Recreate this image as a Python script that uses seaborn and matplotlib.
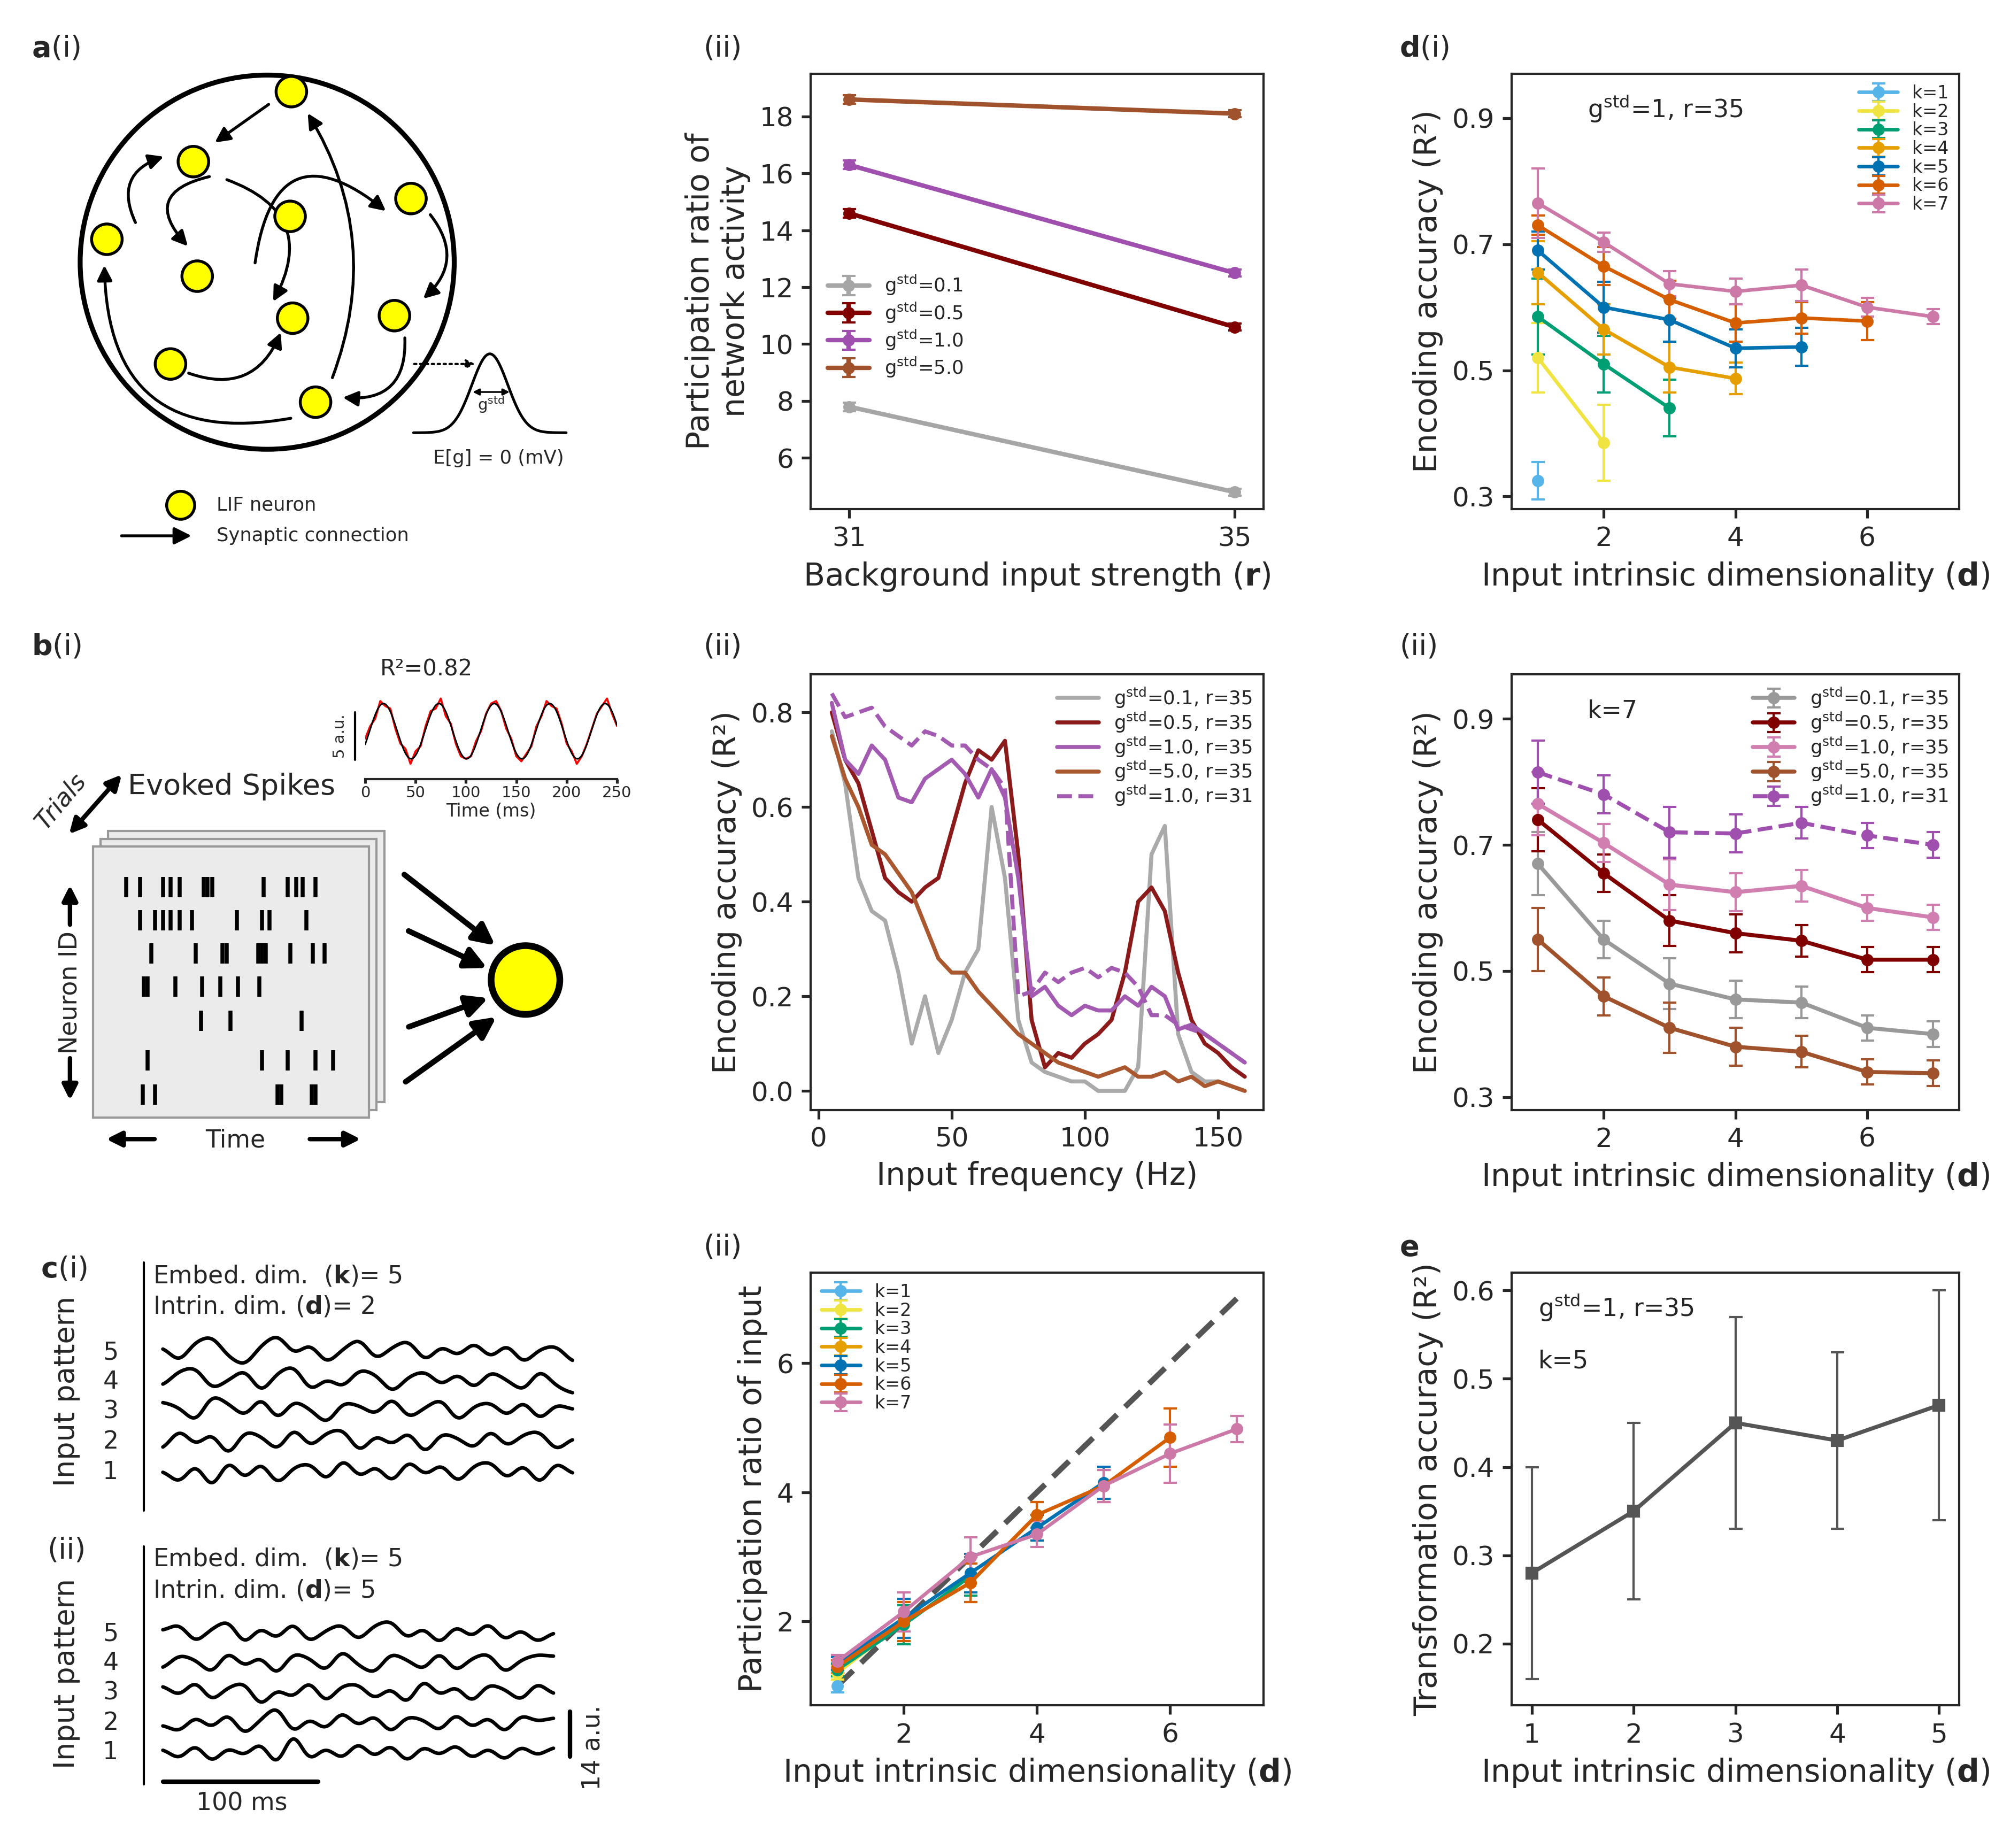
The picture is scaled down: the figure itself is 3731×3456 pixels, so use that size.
import numpy as np
import matplotlib
matplotlib.use("Agg")
import matplotlib.pyplot as plt
import seaborn as sns
from matplotlib.patches import Circle, Rectangle, FancyArrowPatch

sns.set_theme(style="ticks")
plt.rcParams['font.family'] = ['DejaVu Sans']
plt.rcParams['axes.linewidth'] = 1.0
plt.rcParams['xtick.labelsize'] = 12
plt.rcParams['ytick.labelsize'] = 12
plt.rcParams['axes.labelsize'] = 14

GS = r'g$^{\rm std}$'

# ---- data: a(ii) participation ratio vs r
r_vals = [31, 35]
pr_g01 = [7.8, 4.8]
pr_g05 = [14.6, 10.6]
pr_g10 = [16.3, 12.5]
pr_g50 = [18.6, 18.1]
pr_err = [0.15, 0.12]

# ---- d(i) encoding accuracy for each k
enc_k = {
    1: [0.325],
    2: [0.52, 0.385],
    3: [0.585, 0.51, 0.44],
    4: [0.655, 0.565, 0.505, 0.487],
    5: [0.69, 0.60, 0.58, 0.535, 0.537],
    6: [0.73, 0.665, 0.612, 0.575, 0.583, 0.578],
    7: [0.765, 0.703, 0.637, 0.625, 0.635, 0.60, 0.585],
}
enc_k_err = {
    1: [0.03],
    2: [0.055, 0.06],
    3: [0.06, 0.045, 0.045],
    4: [0.05, 0.04, 0.04, 0.025],
    5: [0.03, 0.04, 0.035, 0.03, 0.03],
    6: [0.015, 0.03, 0.03, 0.03, 0.025, 0.03],
    7: [0.055, 0.015, 0.02, 0.02, 0.025, 0.015, 0.012],
}
k_colors = {1: '#56b4e9', 2: '#f0e442', 3: '#009e73', 4: '#e69f00',
            5: '#0072b2', 6: '#d55e00', 7: '#cc79a7'}

# ---- d(ii) k=7 for each gstd
dims = [1, 2, 3, 4, 5, 6, 7]
k7_g01 = [0.67, 0.55, 0.48, 0.455, 0.45, 0.41, 0.40]
k7_g05 = [0.74, 0.655, 0.58, 0.56, 0.548, 0.518, 0.518]
k7_g10 = [0.765, 0.703, 0.637, 0.625, 0.635, 0.60, 0.585]
k7_g50 = [0.55, 0.46, 0.41, 0.38, 0.372, 0.34, 0.338]
k7_g10_r31 = [0.815, 0.78, 0.72, 0.718, 0.735, 0.715, 0.70]
k7_err = [0.05, 0.03, 0.04, 0.03, 0.025, 0.02, 0.02]

# ---- b(ii) encoding vs frequency
freq = list(range(5, 161, 5))
fr_g01 = [0.76, 0.65, 0.45, 0.38, 0.36, 0.25, 0.10, 0.20, 0.08, 0.15, 0.25, 0.30, 0.60, 0.45,
          0.15, 0.06, 0.04, 0.03, 0.02, 0.02, 0.0, 0.0, 0.0, 0.05, 0.50, 0.56, 0.12, 0.04,
          0.02, 0.02, 0.01, 0.0]
fr_g05 = [0.80, 0.70, 0.65, 0.55, 0.45, 0.42, 0.40, 0.43, 0.45, 0.55, 0.65, 0.72, 0.70, 0.74,
          0.50, 0.15, 0.05, 0.08, 0.07, 0.10, 0.12, 0.15, 0.25, 0.40, 0.43, 0.38, 0.25, 0.15,
          0.10, 0.08, 0.05, 0.03]
fr_g10 = [0.82, 0.70, 0.67, 0.73, 0.70, 0.62, 0.61, 0.66, 0.68, 0.70, 0.67, 0.62, 0.68, 0.62,
          0.45, 0.20, 0.22, 0.18, 0.16, 0.18, 0.17, 0.17, 0.20, 0.18, 0.22, 0.20, 0.13, 0.14,
          0.12, 0.10, 0.08, 0.06]
fr_g50 = [0.75, 0.66, 0.60, 0.52, 0.50, 0.46, 0.42, 0.35, 0.28, 0.25, 0.25, 0.21, 0.18, 0.15,
          0.12, 0.10, 0.08, 0.06, 0.05, 0.04, 0.03, 0.04, 0.05, 0.03, 0.03, 0.04, 0.02, 0.03,
          0.01, 0.02, 0.01, 0.0]
fr_g10_r31 = [0.84, 0.79, 0.80, 0.81, 0.77, 0.75, 0.73, 0.76, 0.75, 0.73, 0.73, 0.70, 0.68, 0.64,
              0.20, 0.21, 0.25, 0.23, 0.25, 0.26, 0.24, 0.26, 0.25, 0.22, 0.16, 0.16, 0.14, 0.13,
              0.12, 0.10, 0.08, 0.06]

# ---- c(ii) participation ratio of input
pri_k = {
    1: [1.0],
    2: [1.2, 2.0],
    3: [1.25, 1.95, 2.7],
    4: [1.3, 2.0, 2.6, 3.65],
    5: [1.35, 2.05, 2.75, 3.45, 4.15],
    6: [1.3, 2.0, 2.6, 3.65, 4.1, 4.85],
    7: [1.38, 2.15, 3.0, 3.35, 4.1, 4.6, 4.98],
}
pri_err = [0.1, 0.3, 0.3, 0.2, 0.25, 0.45, 0.2]

# ---- e transformation accuracy
e_d = [1, 2, 3, 4, 5]
e_acc = [0.28, 0.35, 0.45, 0.43, 0.47]
e_err = [0.12, 0.10, 0.12, 0.10, 0.13]

# ---- schematic data
spike_rows = [
    [99, 110, 128, 134, 141, 160, 163, 167, 207, 226, 233, 238, 248],
    [110, 122, 128, 134, 141, 151, 186, 206, 212, 241],
    [119, 154, 175, 178, 203, 206, 209, 228, 246, 255],
    [113, 116, 138, 159, 173, 187, 204],
    [158, 181, 237],
    [116, 206, 226, 248, 262],
    [112, 122, 218, 221, 245, 248],
]
inset_red = [-0.3, 0.2, 0.5, 1.2, 1.0, 0.9, 0.1, -0.5, -0.7, -1.3, -0.8,
             -0.6, 0.2, 0.8, 0.9, 1.3, 0.6, 0.3, -0.5, -1.0, -1.1, -1.0,
             -0.4, 0.0, 0.7, 1.1, 1.2, 0.8, 0.1, -0.3, -1.0, -1.2, -0.9,
             -0.6, 0.2, 0.6, 1.2, 1.0, 0.9, 0.3, -0.5, -0.8, -1.3, -1.0,
             -0.5, 0.1, 0.7, 1.0, 1.3, 0.7, 0.2]
traces_c1 = [
    [0.3, -0.5, 0.6, 0.9, -0.2, -0.7, 0.4, 1.0, -0.1, 0.5, -0.6, 0.2, 0.8, -0.4, 0.3, 0.7, -0.5, 0.4, -0.2, 0.6, -0.3, 0.5, -0.6, 0.2, 0.4, -0.5],
    [-0.2, 0.6, 0.8, -0.4, 0.1, 0.7, -0.6, 0.5, 0.9, -0.5, 0.2, -0.3, 0.7, 0.4, -0.6, 0.3, 0.6, -0.2, 0.5, -0.4, 0.6, 0.1, -0.5, 0.7, -0.2, -0.6],
    [0.5, 0.2, -0.6, 0.9, 0.4, -0.3, 0.8, -0.5, 0.6, 0.1, -0.7, 0.5, 0.3, -0.2, 0.8, -0.4, 0.2, 0.7, -0.6, 0.3, 0.5, -0.3, 0.6, -0.5, 0.4, 0.1],
    [-0.4, 0.7, -0.2, 0.5, -0.8, 0.6, 0.3, -0.5, 0.8, -0.3, 0.5, 0.7, -0.6, 0.4, -0.2, 0.6, -0.7, 0.5, 0.2, -0.4, 0.7, -0.3, 0.4, 0.6, -0.5, 0.2],
    [0.1, -0.6, 0.5, -0.9, 0.7, -0.4, 0.6, -0.7, 0.3, 0.5, -0.5, 0.8, -0.3, 0.4, -0.6, 0.7, -0.2, 0.5, -0.6, 0.4, 0.6, -0.4, 0.5, -0.7, 0.6, -0.1],
]
traces_c2 = [
    [0.2, 0.6, -0.5, 0.3, 0.8, -0.6, 0.4, -0.3, 0.7, -0.5, 0.2, 0.6, -0.4, 0.5, 0.8, -0.3, 0.4, -0.6, 0.5, -0.2, 0.7, -0.4, 0.3, -0.5, 0.1],
    [-0.3, 0.5, 0.2, -0.6, 0.7, -0.2, 0.4, -0.7, 0.6, 0.3, -0.5, 0.8, -0.1, -0.6, 0.6, 0.2, -0.4, 0.7, -0.5, 0.3, 0.6, -0.6, 0.2, 0.5, 0.4],
    [0.4, -0.2, 0.7, -0.5, 0.3, 0.6, -0.8, 0.2, -0.3, 0.7, -0.6, 0.4, 0.5, -0.4, 0.3, -0.7, 0.8, -0.2, 0.4, -0.6, 0.5, 0.2, -0.5, 0.6, -0.1],
    [-0.1, -0.5, 0.4, -0.3, 0.6, -0.7, 0.2, 1.0, -0.6, 0.3, -0.4, 0.7, -0.2, 0.5, -0.6, 0.4, 0.2, -0.5, 0.6, -0.3, 0.4, -0.6, 0.5, 0.1, 0.3],
    [0.2, -0.4, 0.5, -0.6, 0.3, -0.2, 0.6, -0.8, 1.2, -0.5, 0.3, -0.4, 0.6, -0.3, 0.5, -0.6, 0.4, -0.2, 0.5, -0.4, 0.3, -0.5, 0.4, -0.2, 0.3],
]

fig = plt.figure(figsize=(3731 / 300, 3456 / 300), dpi=300)

# ================= left column schematics (pixel coords of a 1568x1452 canvas)
sk = fig.add_axes([0, 0, 540 / 1568, 1])
sk.set_xlim(0, 540)
sk.set_ylim(1452, 0)
sk.axis('off')


def arrow(p0, p1, rad=0.0, lw=1.3, ms=14, style='-|>', ls='-'):
    sk.add_patch(FancyArrowPatch(p0, p1, connectionstyle=f"arc3,rad={rad}", arrowstyle=style,
                                 mutation_scale=ms, lw=lw, color='black', linestyle=ls))


sk.add_patch(Circle((210, 206), 147, fill=False, lw=2.2, color='black'))
neurons = [(229, 72), (152, 127), (228, 170), (323, 156), (84, 188), (155, 217),
           (230, 250), (310, 248), (134, 286), (248, 316)]
arrow((214, 80), (166, 114))
arrow((108, 178), (132, 122), rad=-0.6)
arrow((168, 138), (150, 196), rad=0.9)
arrow((175, 140), (213, 240), rad=-0.6)
arrow((200, 210), (306, 168), rad=-0.9)
arrow((336, 166), (330, 237), rad=-0.5)
arrow((318, 262), (266, 312), rad=-0.6)
arrow((260, 300), (240, 86), rad=0.25)
arrow((232, 328), (82, 205), rad=-0.6)
arrow((145, 292), (222, 258), rad=0.5)
for (x, y) in neurons:
    sk.add_patch(Circle((x, y), 12, facecolor='#ffff00', edgecolor='black', lw=1.3, zorder=5))
gx = np.linspace(325, 445, 100)
sk.plot(gx, 340 - 62 * np.exp(-((gx - 385) / 20) ** 2), color='black', lw=1.2)
arrow((322, 286), (377, 286), ls=':', ms=8, lw=1.0)
arrow((368, 308), (404, 308), style='<|-|>', ms=6, lw=0.8)
sk.text(386, 318, r'g$^{\rm std}$', fontsize=7, ha='center', va='center')
sk.text(392, 360, 'E[g] = 0 (mV)', fontsize=8.5, ha='center', va='center')
sk.add_patch(Circle((142, 397), 11, facecolor='#ffff00', edgecolor='black', lw=1.3))
sk.text(170, 397, 'LIF neuron', fontsize=8.5, va='center')
arrow((92, 421), (154, 421), ms=16)
sk.text(170, 421, 'Synaptic connection', fontsize=8.5, va='center')

# b(i)
for off in (12, 6, 0):
    sk.add_patch(Rectangle((73 + off, 665 - off), 217, 213, facecolor='#ebebeb',
                           edgecolor='#999999', lw=1.0))
row_y = [697, 723, 749, 775, 802, 833, 860]
for y, row in zip(row_y, spike_rows):
    sk.vlines(row, y - 8, y + 8, color='black', lw=1.8)
sk.text(182, 618, 'Evoked Spikes', fontsize=13, ha='center', va='center')
arrow((52, 658), (98, 606), style='<|-|>', ms=14, lw=2)
sk.text(48, 630, 'Trials', fontsize=11, rotation=50, ha='center', va='center', style='italic')
arrow((55, 730), (55, 692), ms=14, lw=2)
arrow((55, 828), (55, 868), ms=14, lw=2)
sk.text(55, 780, 'Neuron ID', fontsize=11, rotation=90, ha='center', va='center')
arrow((125, 895), (80, 895), ms=14, lw=2)
arrow((240, 895), (287, 895), ms=14, lw=2)
sk.text(185, 896, 'Time', fontsize=11, ha='center', va='center')
sk.add_patch(Circle((413, 770), 27, facecolor='#ffff00', edgecolor='black', lw=3))
for p0, p1 in [((315, 685), (392, 745)), ((318, 730), (386, 762)),
               ((318, 808), (387, 783)), ((316, 852), (393, 797))]:
    arrow(p0, p1, ms=20, lw=2.5)


def smooth_trace(vals, x0, x1, y0, amp):
    xs = np.linspace(0, 1, 600)
    ys = np.interp(xs, np.linspace(0, 1, len(vals)), vals)
    w = np.hanning(41)
    w /= w.sum()
    ys = np.convolve(np.pad(ys, 20, mode='edge'), w, mode='valid')
    sk.plot(x0 + xs * (x1 - x0), y0 - amp * ys, color='black', lw=1.6)


# c(i)
sk.text(120, 1003, r'Embed. dim.  ($\mathbf{k}$)= 5', fontsize=11, va='center')
sk.text(120, 1027, r'Intrin. dim. ($\mathbf{d}$)= 2', fontsize=11, va='center')
sk.plot([113, 113], [992, 1187], color='black', lw=1)
sk.text(52, 1093, 'Input pattern', fontsize=13, rotation=90, ha='center', va='center')
for i, (y, tr) in enumerate(zip([1063, 1086, 1109, 1133, 1157], traces_c1)):
    sk.text(87, y, str(5 - i), fontsize=11, ha='center', va='center')
    smooth_trace(tr, 128, 450, y, 15)
# c(ii)
sk.text(120, 1225, r'Embed. dim.  ($\mathbf{k}$)= 5', fontsize=11, va='center')
sk.text(120, 1250, r'Intrin. dim. ($\mathbf{d}$)= 5', fontsize=11, va='center')
sk.plot([113, 113], [1215, 1402], color='black', lw=1)
sk.text(52, 1315, 'Input pattern', fontsize=13, rotation=90, ha='center', va='center')
for i, (y, tr) in enumerate(zip([1284, 1307, 1330, 1354, 1377], traces_c2)):
    sk.text(87, y, str(5 - i), fontsize=11, ha='center', va='center')
    smooth_trace(tr, 128, 435, y, 14)
sk.plot([128, 250], [1400, 1400], color='black', lw=2)
sk.text(190, 1417, '100 ms', fontsize=11, ha='center', va='center')
sk.plot([448, 448], [1345, 1380], color='black', lw=2)
sk.text(466, 1373, '14 a.u.', fontsize=11, rotation=90, ha='center', va='center')

# inset R2
ins = fig.add_axes([287 / 1568, 1 - 612 / 1452, 198 / 1568, 75 / 1452])
t_ins = np.arange(0, 251, 5)
ins.plot(t_ins, inset_red, color='red', lw=0.9)
t_f = np.linspace(0, 250, 500)
ins.plot(t_f, 1.1 * np.sin(2 * np.pi * t_f / 55 - 0.5), color='black', lw=0.7)
ins.set_xlim(0, 250)
ins.set_ylim(-1.9, 1.9)
ins.set_xticks([0, 50, 100, 150, 200, 250])
ins.tick_params(labelsize=7, length=2, pad=1)
ins.set_yticks([])
ins.set_xlabel('Time (ms)', fontsize=8, labelpad=1)
for s in ['top', 'right', 'left']:
    ins.spines[s].set_visible(False)
ins.text(0.06, 1.08, 'R²=0.82', transform=ins.transAxes, fontsize=10)
ins.plot([-0.04, -0.04], [0.2, 0.7], transform=ins.transAxes, color='black', lw=1, clip_on=False)
ins.text(-0.1, 0.45, '5 a.u.', transform=ins.transAxes, fontsize=7, rotation=90,
         ha='center', va='center')

# ================= data axes
col2, col3, w2, w3 = 637 / 1568, 1188 / 1568, 356 / 1568, 352 / 1568
r1, r2, r3, hh = 1 - 400 / 1452, 1 - 872 / 1452, 1 - 1340 / 1452, 342 / 1452
ax_a2 = fig.add_axes([col2, r1, w2, hh])
ax_d1 = fig.add_axes([col3, r1, w3, hh])
ax_b2 = fig.add_axes([col2, r2, w2, hh])
ax_d2 = fig.add_axes([col3, r2, w3, hh])
ax_c2 = fig.add_axes([col2, r3, w2, 340 / 1452])
ax_e = fig.add_axes([col3, r3, w3, 340 / 1452])

g_colors = ['#a6a6a6', '#800000', '#9f4fae', '#a0522d']
for vals, c, lab in zip([pr_g01, pr_g05, pr_g10, pr_g50], g_colors,
                        ['0.1', '0.5', '1.0', '5.0']):
    ax_a2.errorbar(r_vals, vals, yerr=pr_err, color=c, marker='o', ms=4.5, lw=2,
                   capsize=3, label=GS + '=' + lab)
ax_a2.set_xticks([31, 35])
ax_a2.set_xlim(30.6, 35.3)
ax_a2.set_yticks(range(6, 19, 2))
ax_a2.set_ylim(4.2, 19.5)
ax_a2.set_xlabel(r'Background input strength ($\mathbf{r}$)')
ax_a2.set_ylabel('Participation ratio of\nnetwork activity')
ax_a2.legend(loc='center left', bbox_to_anchor=(0.0, 0.42), fontsize=8.5, frameon=False,
             handlelength=2.2, labelspacing=0.2)

for k in range(1, 8):
    ax_d1.errorbar(dims[:k], enc_k[k], yerr=enc_k_err[k], color=k_colors[k], marker='o',
                   ms=4.5, lw=1.6, capsize=3, elinewidth=1, label=f'k={k}')
ax_d1.text(0.17, 0.9, GS + '=1, r=35', transform=ax_d1.transAxes, fontsize=11)
ax_d1.legend(loc='upper right', fontsize=8, frameon=False, handlelength=2.2,
             labelspacing=0.05, borderaxespad=0.2)

for vals, c, lab, ls in [(k7_g01, '#999999', '0.1, r=35', '-'), (k7_g05, '#800000', '0.5, r=35', '-'),
                         (k7_g10, '#d07fb0', '1.0, r=35', '-'), (k7_g50, '#a0522d', '5.0, r=35', '-'),
                         (k7_g10_r31, '#9f4fae', '1.0, r=31', '--')]:
    ax_d2.errorbar(dims, vals, yerr=k7_err, color=c, marker='o', ms=4.5, lw=1.8, ls=ls,
                   capsize=3, elinewidth=1, label=GS + '=' + lab)
ax_d2.text(0.17, 0.9, 'k=7', transform=ax_d2.transAxes, fontsize=11)
ax_d2.legend(loc='upper right', fontsize=8.5, frameon=False, handlelength=2.2,
             labelspacing=0.05, borderaxespad=0.2)

for ax in (ax_d1, ax_d2):
    ax.set_xticks([2, 4, 6])
    ax.set_xlim(0.6, 7.4)
    ax.set_yticks([0.3, 0.5, 0.7, 0.9])
    ax.set_ylim(0.28, 0.97)
    ax.set_xlabel(r'Input intrinsic dimensionality ($\mathbf{d}$)')
    ax.set_ylabel('Encoding accuracy (R²)')

for vals, c, lab, ls in [(fr_g01, '#aaaaaa', '0.1, r=35', '-'), (fr_g05, '#8b1a1a', '0.5, r=35', '-'),
                         (fr_g10, '#a25bb0', '1.0, r=35', '-'), (fr_g50, '#a9582f', '5.0, r=35', '-'),
                         (fr_g10_r31, '#a25bb0', '1.0, r=31', '--')]:
    sns.lineplot(x=freq, y=vals, ax=ax_b2, color=c, lw=1.8, ls=ls, label=GS + '=' + lab)
ax_b2.set_xticks([0, 50, 100, 150])
ax_b2.set_xlim(-3, 167)
ax_b2.set_yticks([0, 0.2, 0.4, 0.6, 0.8])
ax_b2.set_yticklabels(['0.0', '0.2', '0.4', '0.6', '0.8'])
ax_b2.set_ylim(-0.04, 0.88)
ax_b2.set_xlabel('Input frequency (Hz)')
ax_b2.set_ylabel('Encoding accuracy (R²)')
ax_b2.legend(loc='upper right', fontsize=8.5, frameon=False, handlelength=2.2,
             labelspacing=0.05, borderaxespad=0.2)

ax_c2.plot([1, 7], [1, 7], color='#555555', ls='--', lw=2.5, dashes=(4, 2))
for k in range(1, 8):
    ax_c2.errorbar(dims[:k], pri_k[k], yerr=pri_err[:k], color=k_colors[k], marker='o',
                   ms=4.5, lw=1.6, capsize=3, elinewidth=1, label=f'k={k}')
ax_c2.set_xticks([2, 4, 6])
ax_c2.set_xlim(0.6, 7.4)
ax_c2.set_yticks([2, 4, 6])
ax_c2.set_ylim(0.7, 7.4)
ax_c2.set_xlabel(r'Input intrinsic dimensionality ($\mathbf{d}$)')
ax_c2.set_ylabel('Participation ratio of input')
ax_c2.legend(loc='upper left', fontsize=8, frameon=False, handlelength=2.2,
             labelspacing=0.05, borderaxespad=0.2)

ax_e.errorbar(e_d, e_acc, yerr=e_err, color='#555555', marker='s', ms=5, lw=1.8,
              capsize=3, elinewidth=1)
ax_e.set_xticks(e_d)
ax_e.set_xlim(0.8, 5.2)
ax_e.set_yticks([0.2, 0.3, 0.4, 0.5, 0.6])
ax_e.set_ylim(0.13, 0.62)
ax_e.set_xlabel(r'Input intrinsic dimensionality ($\mathbf{d}$)')
ax_e.set_ylabel('Transformation accuracy (R²)')
ax_e.text(0.06, 0.9, GS + '=1, r=35', transform=ax_e.transAxes, fontsize=11)
ax_e.text(0.06, 0.78, 'k=5', transform=ax_e.transAxes, fontsize=11)

for ax in (ax_a2, ax_d1, ax_b2, ax_d2, ax_c2, ax_e):
    ax.tick_params(direction='out', length=4)

# panel labels
def plabel(x, y, bold, rest):
    fig.text(x / 1568, 1 - y / 1452, r'$\mathbf{' + bold + '}$' + rest if bold else rest,
             fontsize=13, va='center')

plabel(25, 38, 'a', '(i)')
plabel(553, 38, '', '(ii)')
plabel(1100, 38, 'd', '(i)')
plabel(25, 508, 'b', '(i)')
plabel(553, 508, '', '(ii)')
plabel(1100, 508, '', '(ii)')
plabel(32, 997, 'c', '(i)')
plabel(553, 980, '', '(ii)')
plabel(1100, 980, 'e', '')
plabel(37, 1218, '', '(ii)')

fig.savefig('out.png', dpi=300)
